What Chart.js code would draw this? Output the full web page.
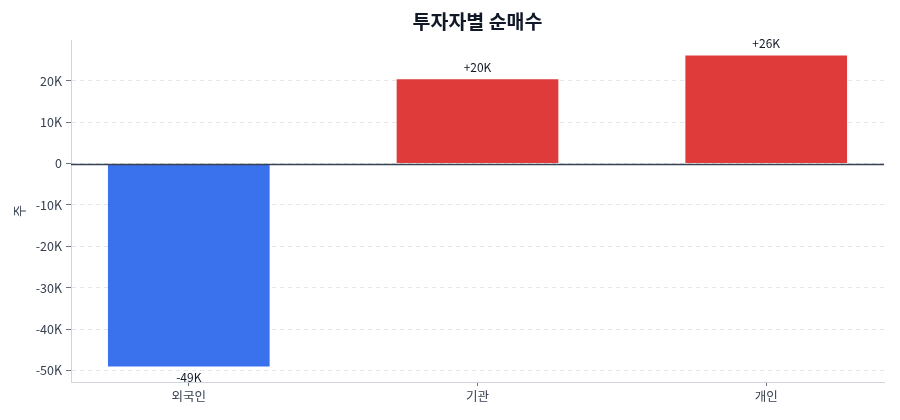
<!DOCTYPE html>
<html>
<head>
<meta charset="utf-8">
<script src="https://cdn.jsdelivr.net/npm/chart.js@4"></script>
<style>
  html, body { margin: 0; padding: 0; background: #fff; }
  #wrap { width: 900px; height: 420px; }
</style>
</head>
<body>
<div id="wrap"><canvas id="chart"></canvas></div>
<script>
const categories = ['외국인', '기관', '개인'];
const netBuy = [-49000, 20400, 26100];
const barColors = ['rgba(37,99,235,0.9)', 'rgba(220,38,38,0.9)', 'rgba(220,38,38,0.9)'];
const yTicks = [-50000, -40000, -30000, -20000, -10000, 0, 10000, 20000];

const FONT = '"Noto Sans CJK KR", "Noto Sans", sans-serif';

// matplotlib-like margins around bars of width 0.56
const barWidth = 0.56;
const xPad = barWidth / 2 + 0.05 * (categories.length - 1 + barWidth);
const yMin = Math.min(...netBuy), yMax = Math.max(...netBuy);
const yPad = 0.05 * (yMax - yMin);

const fmtK = v => (v === 0 ? '0' : (v / 1000) + 'K');

const overlay = {
  id: 'overlay',
  afterDatasetsDraw(chart) {
    const ctx = chart.ctx;
    const area = chart.chartArea;
    const y0 = Math.round(chart.scales.y.getPixelForValue(0)) + 0.5;
    ctx.save();
    ctx.strokeStyle = '#374151';
    ctx.lineWidth = 1.3;
    ctx.beginPath();
    ctx.moveTo(area.left, y0);
    ctx.lineTo(area.right, y0);
    ctx.stroke();

    ctx.font = '12px ' + FONT;
    ctx.fillStyle = '#111827';
    ctx.textAlign = 'center';
    chart.getDatasetMeta(0).data.forEach((bar, i) => {
      const v = netBuy[i];
      const txt = (v > 0 ? '+' : '') + Math.round(v / 1000) + 'K';
      if (v >= 0) {
        ctx.textBaseline = 'bottom';
        ctx.fillText(txt, bar.x, bar.y - 6);
      } else {
        ctx.textBaseline = 'top';
        ctx.fillText(txt, bar.x, bar.y + 5);
      }
    });

    ctx.font = 'bold 19.5px ' + FONT;
    ctx.textBaseline = 'middle';
    ctx.fillText('투자자별 순매수', (area.left + area.right) / 2, 22);
    ctx.restore();
  }
};

new Chart(document.getElementById('chart'), {
  type: 'bar',
  data: {
    datasets: [{
      data: categories.map((c, i) => ({ x: i, y: netBuy[i] })),
      backgroundColor: barColors,
      borderWidth: 0,
      barPercentage: barWidth,
      categoryPercentage: 1.0
    }]
  },
  options: {
    responsive: true,
    maintainAspectRatio: false,
    animation: false,
    layout: { padding: { top: 40, right: 16, left: 5, bottom: 0 } },
    plugins: {
      legend: { display: false },
      tooltip: { enabled: false }
    },
    scales: {
      x: {
        type: 'linear',
        offset: false,
        min: -xPad,
        max: categories.length - 1 + xPad,
        afterBuildTicks: s => { s.ticks = categories.map((c, i) => ({ value: i })); },
        afterFit: s => { s.height = 38; },
        ticks: {
          callback: v => categories[v],
          color: '#374151',
          font: { family: FONT, size: 12.5 },
          padding: 3
        },
        grid: { offset: false, drawOnChartArea: false, drawTicks: true, tickLength: 4, tickColor: '#6b7280' },
        border: { color: '#d1d5db', width: 1 }
      },
      y: {
        min: yMin - yPad,
        max: yMax + yPad,
        afterBuildTicks: s => { s.ticks = yTicks.map(v => ({ value: v })); },
        afterFit: s => { s.width = 66; },
        ticks: {
          callback: v => fmtK(v),
          color: '#374151',
          font: { family: FONT, size: 12.5 },
          padding: 4
        },
        grid: { color: '#e5e7eb', lineWidth: 1, tickLength: 5, tickColor: '#6b7280' },
        border: { color: '#d1d5db', width: 1, dash: [4, 4] },
        title: {
          display: true,
          text: '주',
          color: '#374151',
          font: { family: FONT, size: 13 },
          padding: { top: 6, bottom: 0 }
        }
      }
    }
  },
  plugins: [overlay]
});
</script>
</body>
</html>
